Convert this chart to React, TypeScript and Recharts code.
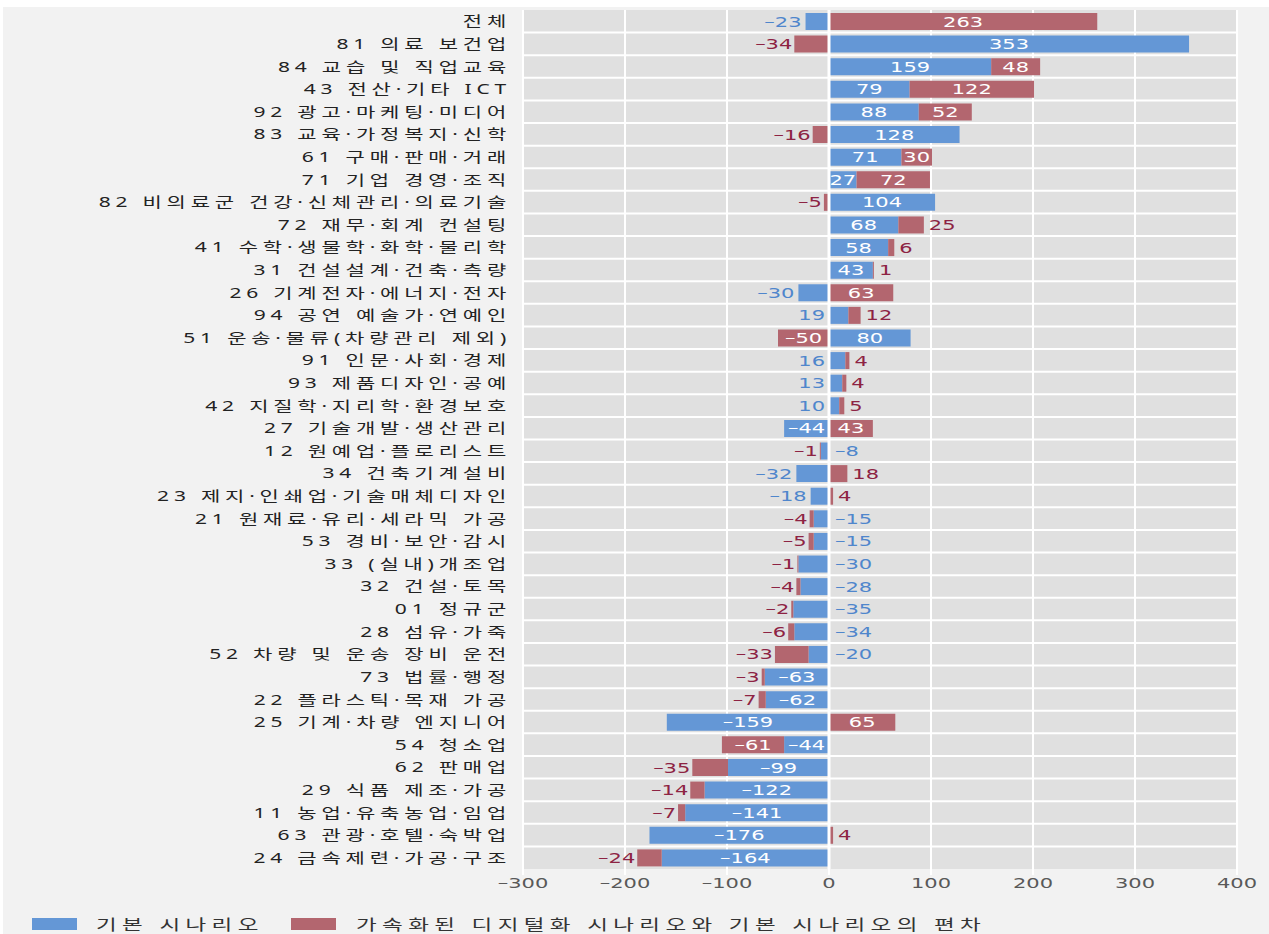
import React from 'react';
import { BarChart, Bar, XAxis, YAxis, CartesianGrid, Legend, LabelList, ReferenceLine } from 'recharts';

const CATEGORIES = [
  '전체',
  '81 의료 보건업',
  '84 교습 및 직업교육',
  '43 전산·기타 ICT',
  '92 광고·마케팅·미디어',
  '83 교육·가정복지·신학',
  '61 구매·판매·거래',
  '71 기업 경영·조직',
  '82 비의료군 건강·신체관리·의료기술',
  '72 재무·회계 컨설팅',
  '41 수학·생물학·화학·물리학',
  '31 건설설계·건축·측량',
  '26 기계전자·에너지·전자',
  '94 공연 예술가·연예인',
  '51 운송·물류(차량관리 제외)',
  '91 인문·사회·경제',
  '93 제품디자인·공예',
  '42 지질학·지리학·환경보호',
  '27 기술개발·생산관리',
  '12 원예업·플로리스트',
  '34 건축기계설비',
  '23 제지·인쇄업·기술매체디자인',
  '21 원재료·유리·세라믹 가공',
  '53 경비·보안·감시',
  '33 (실내)개조업',
  '32 건설·토목',
  '01 정규군',
  '28 섬유·가죽',
  '52 차량 및 운송 장비 운전',
  '73 법률·행정',
  '22 플라스틱·목재 가공',
  '25 기계·차량 엔지니어',
  '54 청소업',
  '62 판매업',
  '29 식품 제조·가공',
  '11 농업·유축농업·임업',
  '63 관광·호텔·숙박업',
  '24 금속제련·가공·구조',
];

// 기본 시나리오
const BASE = [
  -23, 353, 159, 79, 88, 128, 71, 27, 104, 68, 58, 43, -30, 19, 80, 16, 13, 10, -44,
  -8, -32, -18, -15, -15, -30, -28, -35, -34, -20, -63, -62, -159, -44, -99, -122, -141, -176, -164,
];

// 가속화된 디지털화 시나리오와 기본 시나리오의 편차
const GAP = [
  263, -34, 48, 122, 52, -16, 30, 72, -5, 25, 6, 1, 63, 12, -50, 4, 4, 5, 43,
  -1, 18, 4, -4, -5, -1, -4, -2, -6, -33, -3, -7, 65, -61, -35, -14, -7, 4, -24,
];

const X_TICKS = [-300, -200, -100, 0, 100, 200, 300, 400];

const BLUE = '#6497d6';
const RED = '#b3666f';
const BLUE_TEXT = '#4f86cc';
const RED_TEXT = '#8d2343';
const SX = 1.5;
const KR_FONT = "'Noto Sans', 'Noto Sans CJK KR'";

const data = CATEGORIES.map((name, i) => ({ name, base: BASE[i], gap: GAP[i] }));

const fmt = (v: number) => (v < 0 ? '–' + Math.abs(v) : String(v));
const textWidth = (v: number) => String(Math.abs(v)).length * 13.4 + (v < 0 ? 10.5 : 0);

function barBox(p: any) {
  const vb = p.viewBox ?? p;
  const x = Number(vb.x ?? p.x);
  const w = Number(vb.width ?? p.width);
  const y = Number(vb.y ?? p.y);
  const h = Number(vb.height ?? p.height);
  return { left: Math.min(x, x + w), right: Math.max(x, x + w), cy: y + h / 2 };
}

const NumText = ({ x, y, anchor, fill, children }: any) => (
  <text
    transform={`translate(${x},${y}) scale(${SX},1)`}
    textAnchor={anchor}
    dy="0.36em"
    fontFamily="DejaVu Sans"
    fontSize={14}
    fill={fill}
  >
    {children}
  </text>
);

const renderBaseLabel = (p: any) => {
  const i = p.index;
  const v = BASE[i];
  const r = GAP[i];
  const { left, right, cy } = barBox(p);
  if (textWidth(v) <= right - left) {
    return <NumText x={(left + right) / 2} y={cy} anchor="middle" fill="#ffffff">{fmt(v)}</NumText>;
  }
  // other series stacks on the same side -> put the label on the other side of zero
  const sameSide = r !== 0 && Math.sign(r) === Math.sign(v);
  const goRight = sameSide ? v < 0 : v > 0;
  return goRight
    ? <NumText x={right + 6} y={cy} anchor="start" fill={BLUE_TEXT}>{fmt(v)}</NumText>
    : <NumText x={left - 4} y={cy} anchor="end" fill={BLUE_TEXT}>{fmt(v)}</NumText>;
};

const renderGapLabel = (p: any) => {
  const v = GAP[p.index];
  const { left, right, cy } = barBox(p);
  if (textWidth(v) <= right - left) {
    return <NumText x={(left + right) / 2} y={cy} anchor="middle" fill="#ffffff">{fmt(v)}</NumText>;
  }
  return v > 0
    ? <NumText x={right + 5} y={cy} anchor="start" fill={RED_TEXT}>{fmt(v)}</NumText>
    : <NumText x={left - 2} y={cy} anchor="end" fill={RED_TEXT}>{fmt(v)}</NumText>;
};

const CategoryTick = ({ x, y, payload }: any) => (
  <text
    transform={`translate(${x},${y}) scale(${SX},1)`}
    textAnchor="end"
    dy="0.36em"
    fontFamily={KR_FONT}
    fontSize={14}
    letterSpacing={3.2}
    fill="#222222"
  >
    {payload.value}
  </text>
);

const ValueTick = ({ x, y, payload }: any) => (
  <text
    transform={`translate(${x},${y}) scale(${SX},1)`}
    textAnchor="middle"
    dy={11}
    fontFamily="DejaVu Sans"
    fontSize={14}
    fill="#595959"
  >
    {fmt(payload.value)}
  </text>
);

const rowLines = ({ offset }: any) => {
  const step = offset.height / CATEGORIES.length;
  return CATEGORIES.slice(1).map((_, i) => offset.top + step * (i + 1));
};

const renderLegend = () => (
  <svg width={1266} height={36}>
    <rect x={29} y={20} width={45} height={12} fill={BLUE} />
    <text transform={`translate(93,32) scale(${SX},1)`} fontFamily={KR_FONT} fontSize={15} letterSpacing={3.6} fill="#333333">
      기본 시나리오
    </text>
    <rect x={288} y={20} width={45} height={12} fill={RED} />
    <text transform={`translate(353,32) scale(${SX},1)`} fontFamily={KR_FONT} fontSize={15} letterSpacing={3.6} fill="#333333">
      가속화된 디지털화 시나리오와 기본 시나리오의 편차
    </text>
  </svg>
);

export default function App() {
  return (
    <div style={{ position: 'absolute', left: 0, top: 0, width: 1269, height: 934, background: '#ffffff' }}>
      <div style={{ position: 'absolute', left: 3, top: 7, width: 1266, height: 927, background: '#f2f2f2' }}>
        <BarChart
          width={1266}
          height={927}
          data={data}
          layout="vertical"
          stackOffset="sign"
          barSize={17}
          margin={{ top: 3, right: 32, bottom: 0, left: 0 }}
        >
          <CartesianGrid
            fill="#e0e0e0"
            stroke="#ffffff"
            strokeWidth={2}
            horizontalCoordinatesGenerator={rowLines}
          />
          <XAxis
            type="number"
            domain={[-300, 400]}
            ticks={X_TICKS}
            height={25}
            axisLine={false}
            tickLine={{ stroke: '#ffffff', strokeWidth: 2 }}
            tickSize={6}
            tickMargin={2}
            tick={<ValueTick />}
          />
          <YAxis
            type="category"
            dataKey="name"
            width={520}
            interval={0}
            axisLine={false}
            tickLine={false}
            tickSize={0}
            tickMargin={12}
            tick={<CategoryTick />}
          />
          <Legend verticalAlign="bottom" content={renderLegend} wrapperStyle={{ left: 0, top: 891, width: 1266 }} />
          <Bar dataKey="base" name="기본 시나리오" stackId="s" fill={BLUE} isAnimationActive={false}>
            <LabelList dataKey="base" content={renderBaseLabel} />
          </Bar>
          <Bar dataKey="gap" name="가속화된 디지털화 시나리오와 기본 시나리오의 편차" stackId="s" fill={RED} isAnimationActive={false}>
            <LabelList dataKey="gap" content={renderGapLabel} />
          </Bar>
          <ReferenceLine x={0} stroke="#ffffff" strokeWidth={3} />
        </BarChart>
      </div>
    </div>
  );
}
